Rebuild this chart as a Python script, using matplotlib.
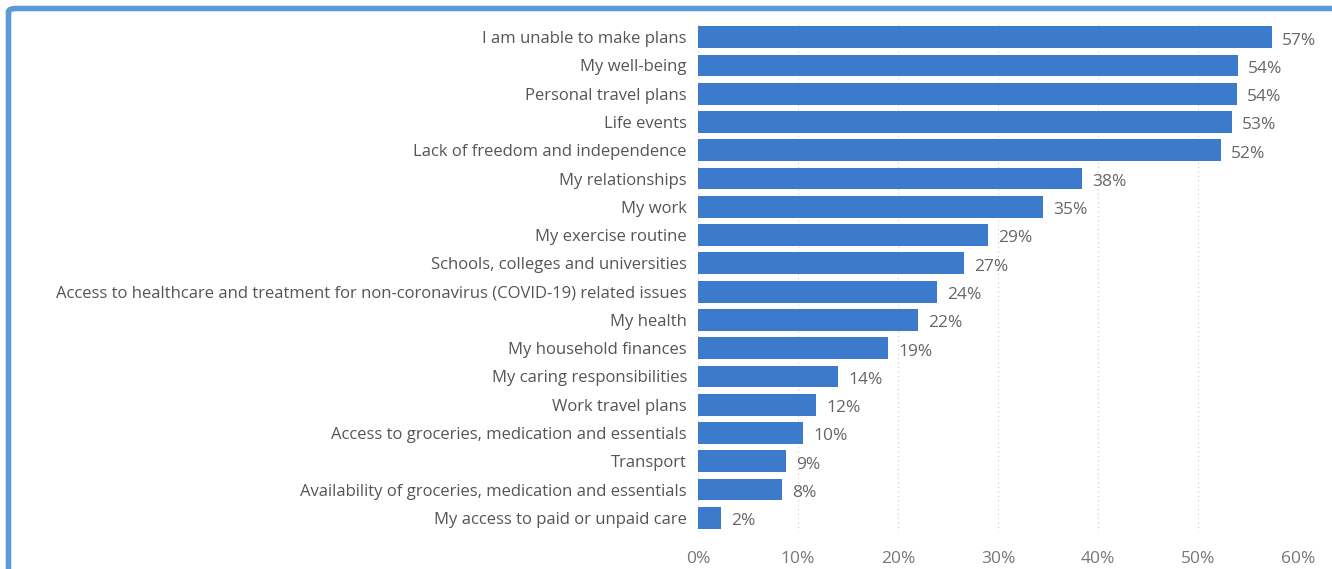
import matplotlib.pyplot as plt
from matplotlib.patches import FancyBboxPatch

categories = [
    "I am unable to make plans",
    "My well-being",
    "Personal travel plans",
    "Life events",
    "Lack of freedom and independence",
    "My relationships",
    "My work",
    "My exercise routine",
    "Schools, colleges and universities",
    "Access to healthcare and treatment for non-coronavirus (COVID-19) related issues",
    "My health",
    "My household finances",
    "My caring responsibilities",
    "Work travel plans",
    "Access to groceries, medication and essentials",
    "Transport",
    "Availability of groceries, medication and essentials",
    "My access to paid or unpaid care",
]
values = [57.4, 54.0, 53.9, 53.4, 52.3, 38.4, 34.5, 29.0, 26.6, 23.9, 22.0, 19.0, 14.0, 11.8, 10.5, 8.8, 8.4, 2.3]
labels = ["57%", "54%", "54%", "53%", "52%", "38%", "35%", "29%", "27%", "24%",
          "22%", "19%", "14%", "12%", "10%", "9%", "8%", "2%"]
xticks = [0, 10, 20, 30, 40, 50, 60]

plt.rcParams['font.family'] = ['Open Sans', 'DejaVu Sans']

W, H = 1332, 569
fig = plt.figure(figsize=(W / 100, H / 100), dpi=100)
fig.patch.set_facecolor('white')

# Frame on the left and top edges
frame = FancyBboxPatch((8.5 / W, -0.2), 1.5, 1.2 - 8.5 / H,
                       boxstyle="round,pad=0,rounding_size=0.006",
                       transform=fig.transFigure, fill=False,
                       edgecolor='#5B9BD5', linewidth=4.0, zorder=10)
fig.patches.append(frame)

ax_left, ax_right = 698, 1298
ax_top, ax_bottom = 23, 532
ax = fig.add_axes([ax_left / W, 1 - ax_bottom / H,
                   (ax_right - ax_left) / W, (ax_bottom - ax_top) / H])

y = list(range(len(categories)))
ax.barh(y, values, height=0.77, color='#3C7BCB', zorder=3)
ax.set_ylim(len(categories) - 0.5, -0.5)
ax.set_xlim(0, 60)

for yi, v, lab in zip(y, values, labels):
    ax.text(v + 1.0, yi + 0.12, lab, va='center', ha='left',
            fontsize=12.5, color='#666666')

ax.set_yticks(y)
ax.set_yticklabels(categories, fontsize=12, color='#555555')
ax.set_xticks(xticks)
ax.set_xticklabels([f"{t}%" for t in xticks], fontsize=12.5, color='#777777')
ax.tick_params(axis='both', length=0)
ax.tick_params(axis='y', pad=8)
ax.tick_params(axis='x', pad=14)

ax.xaxis.grid(True, linestyle=(0, (1, 3)), color='#cccccc', linewidth=0.8, zorder=0)
ax.set_axisbelow(True)
for s in ax.spines.values():
    s.set_visible(False)
ax.grid(axis='y', visible=False)

fig.savefig('out.png', dpi=100, facecolor='white')
